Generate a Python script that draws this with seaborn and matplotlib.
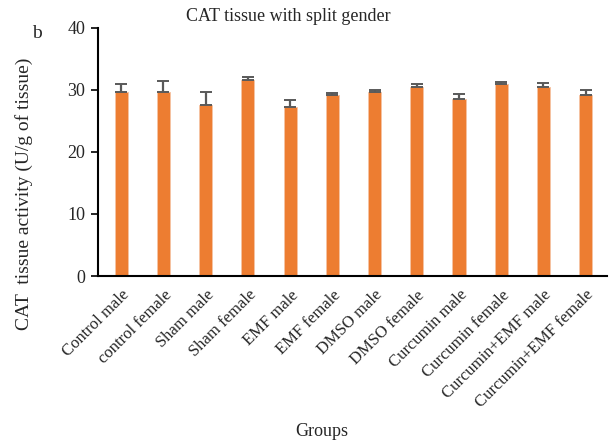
"""CAT tissue activity by group, split by gender."""

import matplotlib
matplotlib.use("Agg")
import matplotlib.pyplot as plt
import seaborn as sns
import pandas as pd

groups = ["Control male", "control female", "Sham male", "Sham female",
          "EMF male", "EMF female", "DMSO male", "DMSO female",
          "Curcumin male", "Curcumin female", "Curcumin+EMF male",
          "Curcumin+EMF female"]
activity = [29.6, 29.7, 27.6, 31.6, 27.3, 29.2, 29.7, 30.4, 28.5, 30.9, 30.4, 29.1]
error = [1.4, 1.7, 2.0, 0.4, 1.0, 0.3, 0.2, 0.5, 0.8, 0.3, 0.7, 0.8]

sns.set_style("ticks")
plt.rcParams["font.family"] = ["Liberation Serif", "DejaVu Serif"]

df = pd.DataFrame({"group": groups, "activity": activity, "error": error})

fig = plt.figure(figsize=(6.16, 4.41), dpi=100)
ax = fig.add_axes([0.159, 0.374, 0.826, 0.563])

sns.barplot(data=df, x="group", y="activity", color="#ED7D31", saturation=1,
            width=0.31, errorbar=None, edgecolor="#F6C3A3", linewidth=0.6, ax=ax)
ax.errorbar(range(len(groups)), df["activity"],
            yerr=[[0] * len(groups), df["error"]], fmt="none",
            ecolor="#595959", elinewidth=1.6, capsize=4.5, capthick=1.4, zorder=3)

ax.set_ylim(0, 40)
ax.set_yticks([0, 10, 20, 30, 40])
ax.set_xlim(-0.55, 11.5)
ax.tick_params(axis="y", direction="out", length=5, width=1.2, labelsize=13,
               color="black", pad=4)
ax.tick_params(axis="x", length=0, labelsize=12, pad=8)
plt.setp(ax.get_xticklabels(), rotation=45, ha="right", rotation_mode="anchor")

ax.spines["top"].set_visible(False)
ax.spines["right"].set_visible(False)
for side in ["left", "bottom"]:
    ax.spines[side].set_linewidth(1.5)
    ax.spines[side].set_color("black")

ax.set_ylabel("CAT  tissue activity (U/g of tissue)", fontsize=14, va="center")
ax.yaxis.set_label_coords(-0.145, 0.33)
ax.set_xlabel("Groups", fontsize=13, va="center")
ax.xaxis.set_label_coords(0.44, -0.625)
ax.set_title("CAT tissue with split gender", fontsize=13, pad=5, x=0.375)
fig.text(0.06, 0.925, "b", fontsize=14, ha="center", va="center")

fig.savefig("out.png", dpi=100)
plt.close(fig)
